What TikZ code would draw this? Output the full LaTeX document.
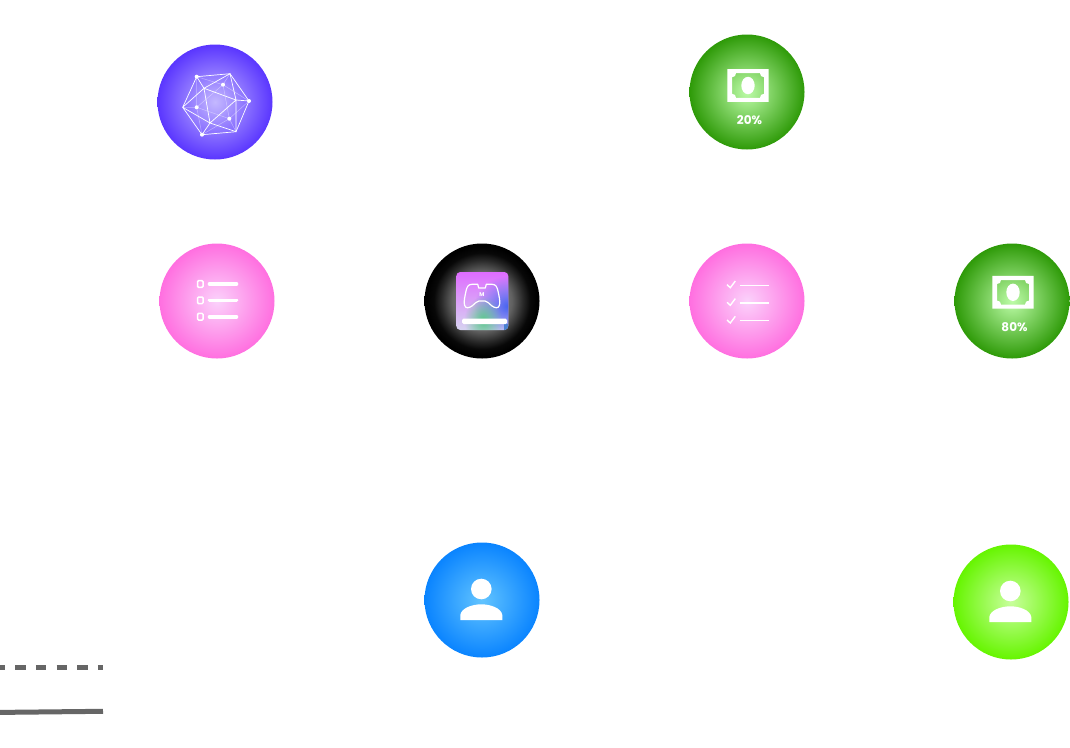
\documentclass[tikz,border=0pt]{standalone}
\usepackage{fontspec}
\setmainfont{Poppins}
\usetikzlibrary{fadings}
\definecolor{violetout}{HTML}{5A36FF}
\definecolor{violetin}{HTML}{C4B8FF}
\definecolor{greenout}{HTML}{2E9A08}
\definecolor{greenin}{HTML}{BDFCA8}
\definecolor{pinkout}{HTML}{FF6FE0}
\definecolor{pinkin}{HTML}{FBD2FB}
\definecolor{blueout}{HTML}{0A84FF}
\definecolor{bluein}{HTML}{62C4FF}
\definecolor{limeout}{HTML}{66F500}
\definecolor{limein}{HTML}{C8FF9C}
\definecolor{legendgray}{HTML}{666666}
\definecolor{booktop}{HTML}{DE6CFF}
\definecolor{bookbase}{HTML}{D6D6F0}
\definecolor{bookblue}{HTML}{4664F0}
\definecolor{bookgreen}{HTML}{5AC88C}
\definecolor{bookcorner}{HTML}{4A7FD0}
\pgfdeclareradialshading{blackglow}{\pgfpoint{0bp}{0bp}}{color(0bp)=(black!30!white);color(13bp)=(black!62!white);color(18bp)=(black!85!white);color(21bp)=(black!97!white);color(24bp)=(black);color(50bp)=(black)}
\tikzfading[name=bookglow, inner color=transparent!0, outer color=transparent!100]
\tikzset{
  disc/.style={circle, minimum size=115pt, inner sep=0pt},
  violet disc/.style={disc, inner color=violetin, outer color=violetout},
  green disc/.style={disc, inner color=greenin, outer color=greenout},
  pink disc/.style={disc, inner color=pinkin, outer color=pinkout},
  blue disc/.style={disc, inner color=bluein, outer color=blueout},
  lime disc/.style={disc, inner color=limein, outer color=limeout},
  black disc/.style={disc, shading=blackglow},
  share/.style={text=white, font=\bfseries\fontsize{12}{13}\selectfont, inner sep=0pt},
  wire/.style={white, line width=0.7pt},
  backwire/.style={white, opacity=0.4, line width=0.5pt},
  legend/.style={legendgray, line width=5pt},
}
% banknote with its centre at #1
\newcommand{\cashicon}[1]{
  \fill[white, even odd rule, shift={(#1)}] (-20.7,-16.4) rectangle (20.7,16.4)
    (-12,-12.3) -- (12,-12.3) .. controls (12,-9.8) and (13.5,-8.3) .. (16,-8.3) -- (16,8.3)
    .. controls (13.5,8.3) and (12,9.8) .. (12,12.3) -- (-12,12.3)
    .. controls (-12,9.8) and (-13.5,8.3) .. (-16,8.3) -- (-16,-8.3)
    .. controls (-13.5,-8.3) and (-12,-9.8) .. (-12,-12.3) -- cycle;
  \fill[white, shift={(#1)}] (0,0) ellipse [x radius=6.7, y radius=8.7];
}
% person with its head at #1
\newcommand{\personicon}[1]{
  \fill[white, shift={(#1)}] (0,0) circle [radius=10.3];
  \fill[white, shift={(#1)}] (-21,31) -- (-21,26) .. controls (-20,19) and (-9,15.3) .. (0,15.3)
    .. controls (9,15.3) and (20,19) .. (21,26) -- (21,31) -- cycle;
}

\begin{document}
\begin{tikzpicture}[x=1pt, y=-1pt]
  \useasboundingbox (0,0) rectangle (1070,747);

  \node[violet disc] (mesh) at (215,102) {};
  \node[green disc] (cut) at (747,92) {};
  \node[pink disc] (todo) at (217,301) {};
  \node[black disc] (book) at (482,301) {};
  \node[pink disc] (done) at (747,301) {};
  \node[green disc] (payout) at (1012,301) {};
  \node[blue disc] (player) at (482,600) {};
  \node[lime disc] (owner) at (1011,602) {};

  % mesh icon
  \coordinate (a) at (196.7,76.7);
  \coordinate (b) at (230,73.7);
  \coordinate (c) at (249,101);
  \coordinate (d) at (236,131.7);
  \coordinate (e) at (202,134.7);
  \coordinate (f) at (182.7,107.3);
  \coordinate (g) at (223,84.7);
  \coordinate (h) at (196.7,107.3);
  \coordinate (i) at (229.3,118.7);
  \coordinate (j) at (204,88.3);
  \coordinate (k) at (236,100);
  \coordinate (l) at (210,123);
  \draw[backwire] (g) -- (a) (g) -- (b) (g) -- (c) (g) -- (h) (g) -- (i)
    (h) -- (a) (h) -- (f) (h) -- (e) (h) -- (i) (i) -- (c) (i) -- (d) (i) -- (e);
  \draw[wire] (a) -- (b) -- (c) -- (d) -- (e) -- (f) -- cycle;
  \draw[wire] (a) -- (j) -- (b) -- (k) -- (c) (f) -- (j) -- (k) -- (d) -- (l) -- (e)
    (f) -- (l) -- (j) (l) -- (k);
  \fill[white] (a) circle [radius=2] (c) circle [radius=2] (e) circle [radius=2]
    (g) circle [radius=2] (h) circle [radius=2] (i) circle [radius=2];

  % banknotes
  \cashicon{748,85.5}
  \node[share] (cut label) at (749.5,120.2) {20\%};
  \cashicon{1013,292.3}
  \node[share] (payout label) at (1014.5,327.2) {80\%};

  % list icon
  \draw[white, line width=1.5pt, rounded corners=1pt] (197.6,280.7) rectangle (203,287.3);
  \draw[white, line width=1.5pt, rounded corners=1pt] (197.6,297) rectangle (203,303.6);
  \draw[white, line width=1.5pt, rounded corners=1pt] (197.6,313.4) rectangle (203,320);
  \draw[white, line width=3.6pt, line cap=round] (209.5,284) -- (236.5,284);
  \draw[white, line width=3.6pt, line cap=round] (209.5,300.3) -- (236.5,300.3);
  \draw[white, line width=3.6pt, line cap=round] (209.5,316.7) -- (236.5,316.7);

  % checklist icon
  \draw[white, line width=1.4pt] (727,284.7) -- (730.3,287.7) -- (735.3,281);
  \draw[white, line width=1.4pt] (727,302.3) -- (730.3,305.3) -- (735.3,298.6);
  \draw[white, line width=1.4pt] (727,320) -- (730.3,323) -- (735.3,316.3);
  \draw[white, line width=1.4pt] (740.3,285.7) -- (769.3,285.7);
  \draw[white, line width=1.4pt] (740.3,303) -- (769.3,303);
  \draw[white, line width=1.4pt] (740.3,320.7) -- (769.3,320.7);

  % game book icon
  \begin{scope}
    \clip[rounded corners=4pt] (456.3,272) -- (508.3,272) -- (508.3,330) -- (456.3,330) -- cycle;
    \shade[top color=booktop, bottom color=bookbase] (456,272) rectangle (509,331);
    \fill[bookblue, path fading=bookglow] (474,276) rectangle (542,336);
    \fill[bookgreen, path fading=bookglow] (464,296) rectangle (502,344);
    \fill[bookcorner] (504,324) rectangle (509,331);
  \end{scope}
  \fill[white, rounded corners=1.5pt] (462,318.7) -- (507,318.7) -- (507,324) -- (462,324) -- cycle;
  \draw[white, line width=1.2pt, line join=round] (477.7,284.3) -- (472,284.3)
    .. controls (468,284.3) and (467,287) .. (466,291) .. controls (465,296) and (463.5,302) .. (464.5,305)
    .. controls (465.5,309) and (469,308) .. (472,306) .. controls (475,303.5) and (477,301) .. (479,301)
    -- (485,301) .. controls (487,301) and (489,303.5) .. (492,306) .. controls (495,308) and (498.5,309) .. (499.5,305)
    .. controls (500.5,302) and (499,296) .. (498,291) .. controls (497,287) and (496,284.3) .. (492,284.3)
    -- (486.3,284.3) -- (485.3,288) -- (478.7,288) -- cycle;
  \node[text=white, font=\bfseries\fontsize{5.5}{6}\selectfont, inner sep=0pt] (book mark) at (481.8,295) {M};

  % people
  \personicon{481.3,589}
  \personicon{1010.3,591}

  % legend strokes
  \coordinate (dash start) at (0,667.7);
  \coordinate (dash end) at (103,667.7);
  \coordinate (line start) at (0,712.4);
  \coordinate (line end) at (103,711.3);
  \draw[legend, dash pattern=on 10.4pt off 10.27pt, dash phase=5.4pt] (dash start) -- (dash end);
  \draw[legend] (line start) -- (line end);
\end{tikzpicture}
\end{document}
